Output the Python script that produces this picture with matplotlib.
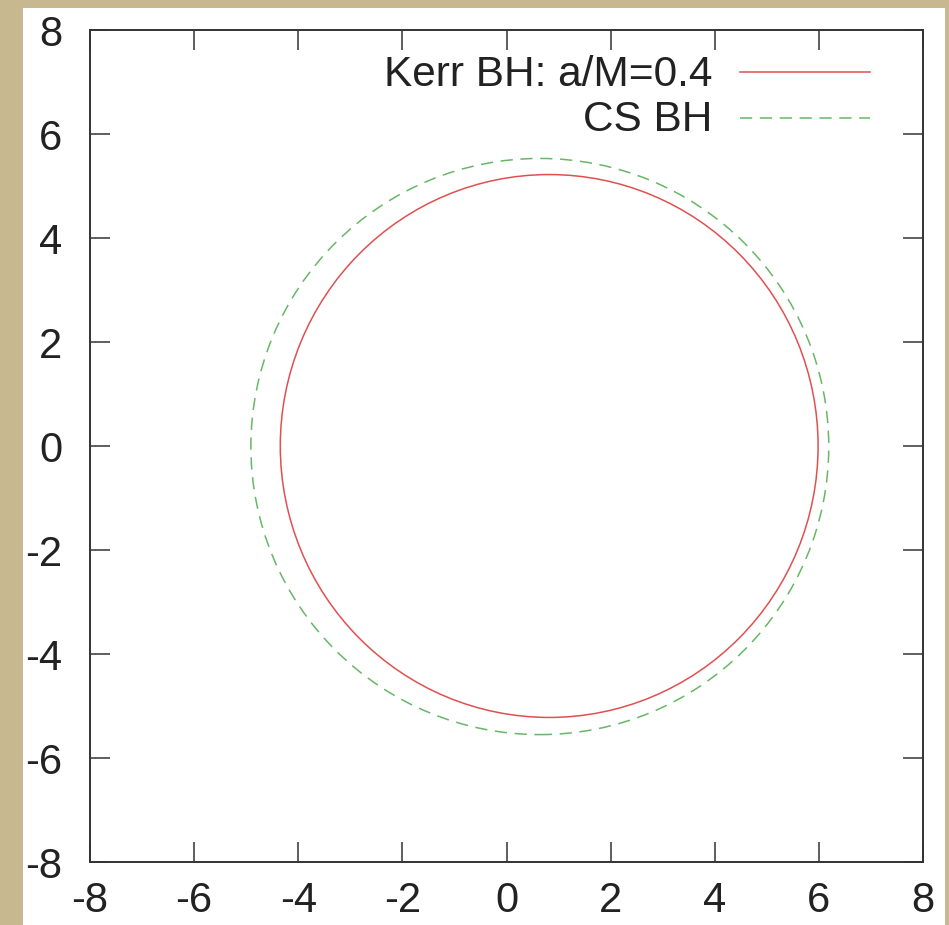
import matplotlib
matplotlib.use("Agg")
import matplotlib.pyplot as plt
from matplotlib.patches import Ellipse, Rectangle

# shadow contours: centre (x, y) and full width / height in units of M
names = ["Kerr BH: a/M=0.4", "CS BH"]
centers_x = [0.82, 0.64]
centers_y = [0.0, -0.01]
widths = [10.33, 11.10]
heights = [10.44, 11.08]
colors = ["#e05050", "#66b866"]
styles = ["-", (0, (8, 5))]

ticks = [-8, -6, -4, -2, 0, 2, 4, 6, 8]

FONT = "Liberation Sans"
TAN = "#c8b890"
plt.rcParams["axes.unicode_minus"] = False

fig = plt.figure(figsize=(9.49, 9.25), dpi=100, facecolor=TAN)
# white slide panel behind the plot
fig.patches.append(Rectangle((23 / 949, 0), 922 / 949, 917 / 925,
                             transform=fig.transFigure, facecolor="white",
                             edgecolor="none", zorder=-5))

ax = fig.add_axes([90 / 949, 63 / 925, 833 / 949, 832 / 925])
ax.set_facecolor("white")
ax.set_xlim(-8, 8)
ax.set_ylim(-8, 8)
ax.set_xticks(ticks)
ax.set_yticks(ticks)
ax.tick_params(direction="in", length=14.5, width=1.1, color="#333",
               top=True, right=True, labelsize=30)
ax.tick_params(axis="x", pad=14)
ax.tick_params(axis="y", pad=20)
for lab in ax.get_xticklabels() + ax.get_yticklabels():
    lab.set_fontfamily(FONT)
    lab.set_color("#222")
for s in ax.spines.values():
    s.set_linewidth(1.4)
    s.set_color("#333")

for cx, cy, w, h, c, ls in zip(centers_x, centers_y, widths, heights, colors, styles):
    ax.add_patch(Ellipse((cx, cy), w, h, fill=False, edgecolor=c,
                         linestyle=ls, linewidth=1.1))

# gnuplot-style key: right-aligned text, sample line to the right
key_text_y = [0.9327, 0.8786]
key_line_y = [0.9495, 0.894]
for name, c, ls, ty, ly in zip(names, colors, styles, key_text_y, key_line_y):
    ax.text(0.7467, ty, name, transform=ax.transAxes, ha="right", va="baseline",
            fontsize=30.5, family=FONT, color="#222")
    ax.plot([0.780, 0.936], [ly, ly], transform=ax.transAxes, color=c,
            linestyle=ls, linewidth=1.1)

fig.savefig("out.png", dpi=100, facecolor=TAN)
